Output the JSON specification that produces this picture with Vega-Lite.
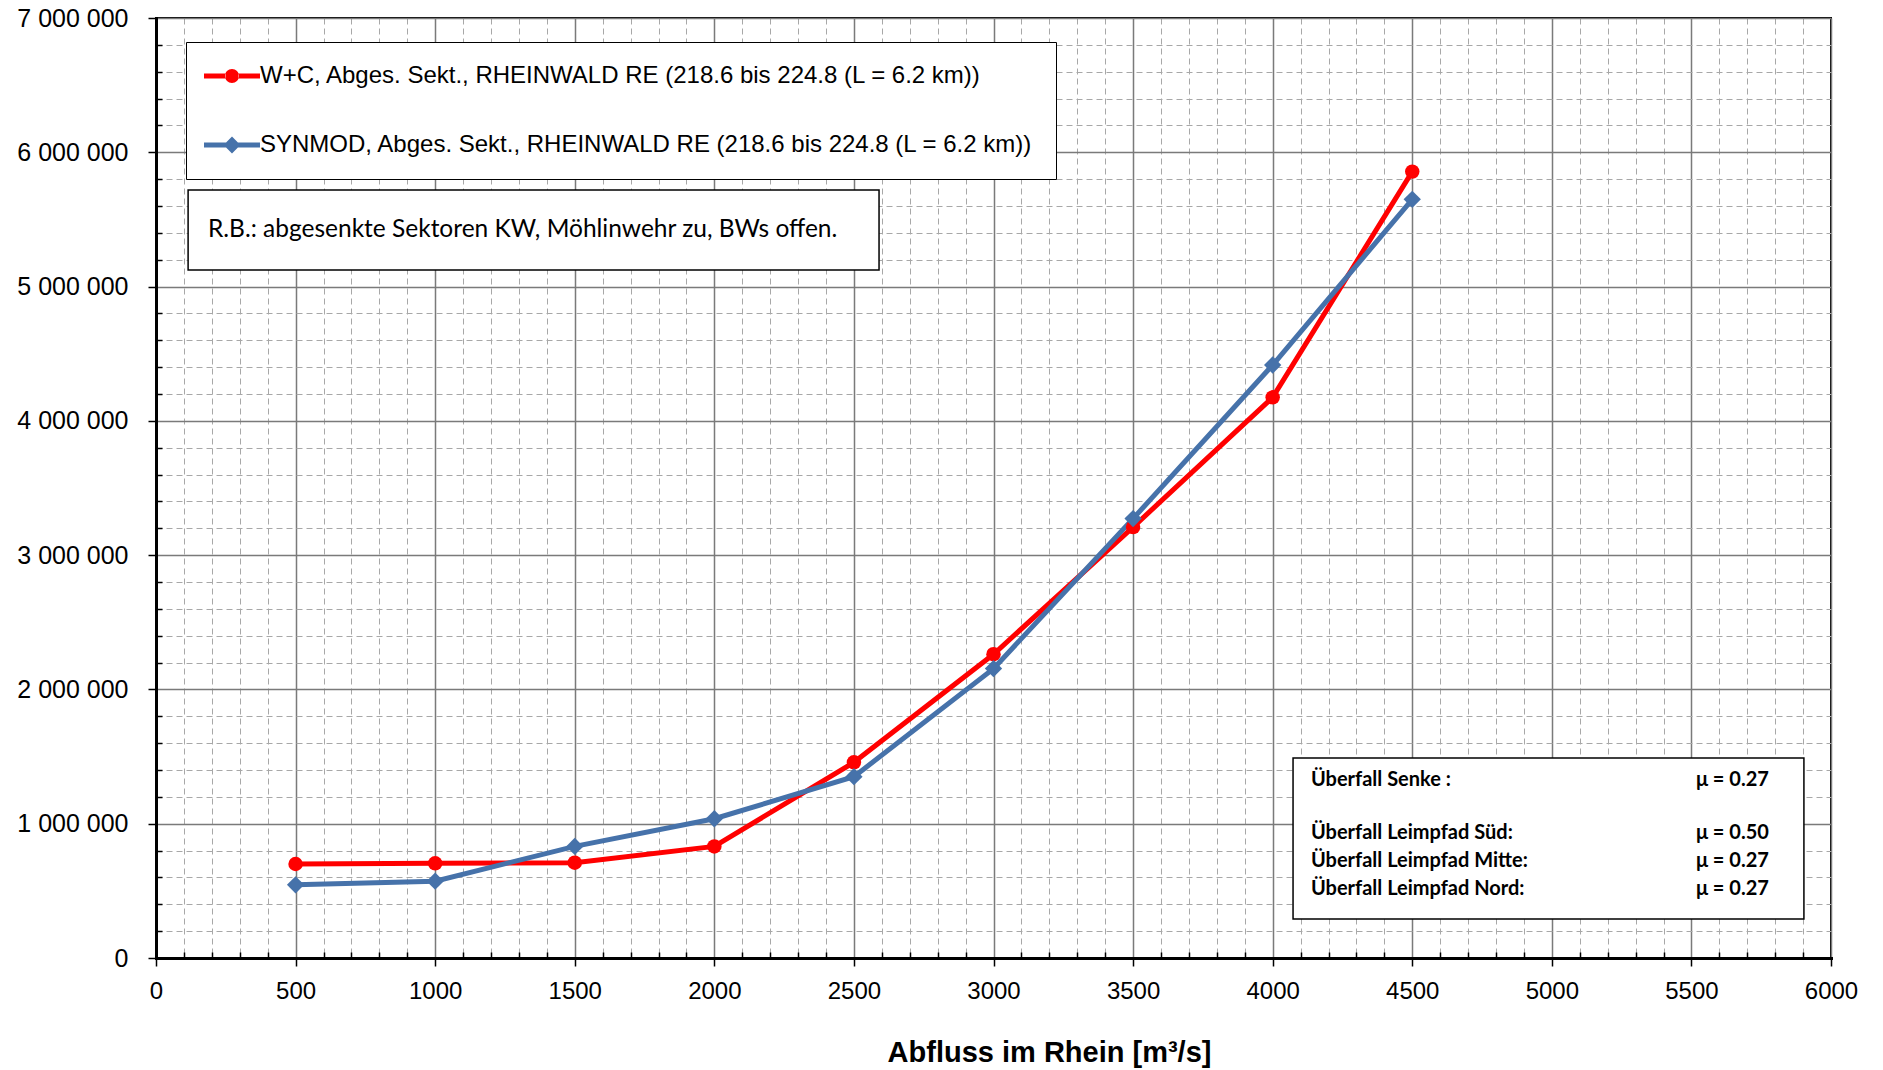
{
  "$schema": "https://vega.github.io/schema/vega-lite/v6.json",
  "width": 1675,
  "height": 940,
  "autosize": {"type": "none"},
  "padding": {"left": 156, "top": 18, "right": 52, "bottom": 112},
  "background": "white",
  "title": {
    "text": "(LB-Berechnungen W+C, small Messenkt 15.6.2013)",
    "font": "Liberation Sans",
    "fontSize": 20,
    "fontWeight": "normal",
    "color": "black",
    "frame": "group",
    "baseline": "bottom",
    "offset": -2,
    "dx": -84
  },
  "datasets": {
    "series": [
      {"Q": 500, "V": 700000, "series": "W+C, Abges. Sekt., RHEINWALD RE (218.6 bis 224.8 (L = 6.2 km))"},
      {"Q": 1000, "V": 705000, "series": "W+C, Abges. Sekt., RHEINWALD RE (218.6 bis 224.8 (L = 6.2 km))"},
      {"Q": 1500, "V": 710000, "series": "W+C, Abges. Sekt., RHEINWALD RE (218.6 bis 224.8 (L = 6.2 km))"},
      {"Q": 2000, "V": 831000, "series": "W+C, Abges. Sekt., RHEINWALD RE (218.6 bis 224.8 (L = 6.2 km))"},
      {"Q": 2500, "V": 1457000, "series": "W+C, Abges. Sekt., RHEINWALD RE (218.6 bis 224.8 (L = 6.2 km))"},
      {"Q": 3000, "V": 2262000, "series": "W+C, Abges. Sekt., RHEINWALD RE (218.6 bis 224.8 (L = 6.2 km))"},
      {"Q": 3500, "V": 3209000, "series": "W+C, Abges. Sekt., RHEINWALD RE (218.6 bis 224.8 (L = 6.2 km))"},
      {"Q": 4000, "V": 4175000, "series": "W+C, Abges. Sekt., RHEINWALD RE (218.6 bis 224.8 (L = 6.2 km))"},
      {"Q": 4500, "V": 5856000, "series": "W+C, Abges. Sekt., RHEINWALD RE (218.6 bis 224.8 (L = 6.2 km))"},
      {"Q": 500, "V": 545000, "series": "SYNMOD, Abges. Sekt., RHEINWALD RE (218.6 bis 224.8 (L = 6.2 km))"},
      {"Q": 1000, "V": 572000, "series": "SYNMOD, Abges. Sekt., RHEINWALD RE (218.6 bis 224.8 (L = 6.2 km))"},
      {"Q": 1500, "V": 831000, "series": "SYNMOD, Abges. Sekt., RHEINWALD RE (218.6 bis 224.8 (L = 6.2 km))"},
      {"Q": 2000, "V": 1037000, "series": "SYNMOD, Abges. Sekt., RHEINWALD RE (218.6 bis 224.8 (L = 6.2 km))"},
      {"Q": 2500, "V": 1350000, "series": "SYNMOD, Abges. Sekt., RHEINWALD RE (218.6 bis 224.8 (L = 6.2 km))"},
      {"Q": 3000, "V": 2155000, "series": "SYNMOD, Abges. Sekt., RHEINWALD RE (218.6 bis 224.8 (L = 6.2 km))"},
      {"Q": 3500, "V": 3272000, "series": "SYNMOD, Abges. Sekt., RHEINWALD RE (218.6 bis 224.8 (L = 6.2 km))"},
      {"Q": 4000, "V": 4416000, "series": "SYNMOD, Abges. Sekt., RHEINWALD RE (218.6 bis 224.8 (L = 6.2 km))"},
      {"Q": 4500, "V": 5650000, "series": "SYNMOD, Abges. Sekt., RHEINWALD RE (218.6 bis 224.8 (L = 6.2 km))"}
    ],
    "boxes": [
      {"x1": 115, "x2": 2590, "y1": 5123000, "y2": 5719000},
      {"x1": 4073, "x2": 5903, "y1": 290000, "y2": 1489000}
    ],
    "note": [
      {"x": 186, "y": 5421000, "text": "R.B.: abgesenkte Sektoren KW, Möhlinwehr zu, BWs offen."}
    ],
    "params": [
      {"x": 4137, "y": 1325000, "text": "Überfall Senke :"},
      {"x": 4137, "y": 931000, "text": "Überfall Leimpfad Süd:"},
      {"x": 4137, "y": 722000, "text": "Überfall Leimpfad Mitte:"},
      {"x": 4137, "y": 514000, "text": "Überfall Leimpfad Nord:"},
      {"x": 5516, "y": 1325000, "text": "μ = 0.27"},
      {"x": 5516, "y": 931000, "text": "μ = 0.50"},
      {"x": 5516, "y": 722000, "text": "μ = 0.27"},
      {"x": 5516, "y": 514000, "text": "μ = 0.27"}
    ]
  },
  "layer": [
    {
      "data": {"name": "series"},
      "transform": [{"filter": {"field": "series", "equal": "W+C, Abges. Sekt., RHEINWALD RE (218.6 bis 224.8 (L = 6.2 km))"}}],
      "mark": {"type": "line", "strokeWidth": 5, "color": "#ff0000"},
      "encoding": {
        "x": {
          "field": "Q", "type": "quantitative",
          "scale": {"domain": [0, 6000], "nice": false, "zero": false},
          "axis": {
            "title": "Abfluss im Rhein [m³/s]",
            "titleFont": "Liberation Sans",
            "titleFontSize": 29,
            "titleFontWeight": "bold",
            "titleColor": "black",
            "titleX": 893,
            "titleY": 103,
            "titleBaseline": "alphabetic",
            "tickCount": 200,
            "values": [0,100,200,300,400,500,600,700,800,900,1000,1100,1200,1300,1400,1500,1600,1700,1800,1900,2000,2100,2200,2300,2400,2500,2600,2700,2800,2900,3000,3100,3200,3300,3400,3500,3600,3700,3800,3900,4000,4100,4200,4300,4400,4500,4600,4700,4800,4900,5000,5100,5200,5300,5400,5500,5600,5700,5800,5900,6000],
            "labelExpr": "datum.value % 500 === 0 ? format(datum.value, 'd') : ''",
            "labelOverlap": false,
            "labelFlush": false,
            "labelFont": "Liberation Sans",
            "labelFontSize": 24,
            "labelColor": "black",
            "labelPadding": 13,
            "domainColor": "black",
            "domainWidth": 3,
            "tickColor": "black",
            "tickWidth": 1.5,
            "tickSize": {"condition": {"test": "datum.value % 500 === 0", "value": 8}, "value": -6},
            "grid": true,
            "gridColor": {"condition": {"test": "datum.value % 500 === 0", "value": "#7a7a7a"}, "value": "#a8a8a8"},
            "gridWidth": {"condition": {"test": "datum.value % 500 === 0", "value": 1.5}, "value": 1},
            "gridDash": {"condition": {"test": "datum.value % 500 === 0", "value": []}, "value": [6, 4]}
          }
        },
        "y": {
          "field": "V", "type": "quantitative",
          "scale": {"domain": [0, 7000000], "nice": false},
          "axis": {
            "title": null,
            "tickCount": 200,
            "values": [0,200000,400000,600000,800000,1000000,1200000,1400000,1600000,1800000,2000000,2200000,2400000,2600000,2800000,3000000,3200000,3400000,3600000,3800000,4000000,4200000,4400000,4600000,4800000,5000000,5200000,5400000,5600000,5800000,6000000,6200000,6400000,6600000,6800000,7000000],
            "labelExpr": "datum.value % 1000000 === 0 ? replace(format(datum.value, ','), regexp(',', 'g'), ' ') : ''",
            "labelOverlap": false,
            "labelFlush": false,
            "labelFont": "Liberation Sans",
            "labelFontSize": 25,
            "labelColor": "black",
            "labelPadding": 20,
            "domainColor": "black",
            "domainWidth": 3,
            "tickColor": "black",
            "tickWidth": 1.5,
            "tickSize": {"condition": {"test": "datum.value % 1000000 === 0", "value": 8}, "value": -6},
            "grid": true,
            "gridColor": {"condition": {"test": "datum.value % 1000000 === 0", "value": "#7a7a7a"}, "value": "#a8a8a8"},
            "gridWidth": {"condition": {"test": "datum.value % 1000000 === 0", "value": 1.5}, "value": 1},
            "gridDash": {"condition": {"test": "datum.value % 1000000 === 0", "value": []}, "value": [6, 4]}
          }
        }
      }
    },
    {
      "data": {"name": "series"},
      "transform": [{"filter": {"field": "series", "equal": "SYNMOD, Abges. Sekt., RHEINWALD RE (218.6 bis 224.8 (L = 6.2 km))"}}],
      "mark": {"type": "line", "strokeWidth": 5, "color": "#4672aa"},
      "encoding": {
        "x": {"field": "Q", "type": "quantitative"},
        "y": {"field": "V", "type": "quantitative"}
      }
    },
    {
      "data": {"name": "series"},
      "transform": [{"filter": {"field": "series", "equal": "W+C, Abges. Sekt., RHEINWALD RE (218.6 bis 224.8 (L = 6.2 km))"}}],
      "mark": {"type": "point", "filled": true, "opacity": 1, "shape": "circle", "size": 210, "color": "#ff0000"},
      "encoding": {
        "x": {"field": "Q", "type": "quantitative"},
        "y": {"field": "V", "type": "quantitative"}
      }
    },
    {
      "data": {"name": "series"},
      "transform": [{"filter": {"field": "series", "equal": "SYNMOD, Abges. Sekt., RHEINWALD RE (218.6 bis 224.8 (L = 6.2 km))"}}],
      "mark": {"type": "point", "filled": true, "opacity": 1, "shape": "diamond", "size": 300, "color": "#4672aa"},
      "encoding": {
        "x": {"field": "Q", "type": "quantitative"},
        "y": {"field": "V", "type": "quantitative"}
      }
    },
    {
      "data": {"name": "series"},
      "mark": {"type": "point", "filled": true, "opacity": 0, "size": 196},
      "encoding": {
        "x": {"field": "Q", "type": "quantitative"},
        "y": {"field": "V", "type": "quantitative"},
        "color": {
          "field": "series", "type": "nominal",
          "scale": {
            "domain": ["W+C, Abges. Sekt., RHEINWALD RE (218.6 bis 224.8 (L = 6.2 km))", "SYNMOD, Abges. Sekt., RHEINWALD RE (218.6 bis 224.8 (L = 6.2 km))"],
            "range": ["#ff0000", "#4672aa"]
          },
          "legend": {
            "orient": "none",
            "legendX": 30,
            "legendY": 24,
            "title": null,
            "padding": 22,
            "strokeColor": "black",
            "fillColor": "white",
            "labelFont": "Liberation Sans",
            "labelFontSize": 24,
            "labelColor": "black",
            "labelLimit": 2000,
            "rowPadding": 45,
            "symbolSize": 196,
            "symbolOffset": 12,
            "labelOffset": 16,
            "symbolStrokeWidth": 0,
            "symbolOpacity": 1
          }
        },
        "shape": {
          "field": "series", "type": "nominal",
          "scale": {
            "domain": ["W+C, Abges. Sekt., RHEINWALD RE (218.6 bis 224.8 (L = 6.2 km))", "SYNMOD, Abges. Sekt., RHEINWALD RE (218.6 bis 224.8 (L = 6.2 km))"],
            "range": [
              "M-4,-0.36H-0.93V0.36H-4Z M0.93,-0.36H4V0.36H0.93Z M-1,0A1,1 0 1,0 1,0A1,1 0 1,0 -1,0Z",
              "M-4,-0.36H-0.84V0.36H-4Z M0.84,-0.36H4V0.36H0.84Z M0,-1.2L1.2,0L0,1.2L-1.2,0Z"
            ]
          },
          "legend": {
            "orient": "none",
            "legendX": 30,
            "legendY": 24,
            "title": null,
            "padding": 22,
            "strokeColor": "black",
            "fillColor": "white",
            "labelFont": "Liberation Sans",
            "labelFontSize": 24,
            "labelColor": "black",
            "labelLimit": 2000,
            "rowPadding": 45,
            "symbolSize": 196,
            "symbolOffset": 12,
            "labelOffset": 16,
            "symbolStrokeWidth": 0,
            "symbolOpacity": 1
          }
        }
      }
    },
    {
      "data": {"name": "boxes"},
      "mark": {"type": "rect", "fill": "white", "stroke": "black", "strokeWidth": 1.5},
      "encoding": {
        "x": {"field": "x1", "type": "quantitative"},
        "x2": {"field": "x2"},
        "y": {"field": "y1", "type": "quantitative"},
        "y2": {"field": "y2"}
      }
    },
    {
      "data": {"name": "note"},
      "mark": {"type": "text", "align": "left", "baseline": "middle", "font": "Lato", "fontSize": 24.5, "color": "black"},
      "encoding": {
        "x": {"field": "x", "type": "quantitative"},
        "y": {"field": "y", "type": "quantitative"},
        "text": {"field": "text"}
      }
    },
    {
      "data": {"name": "params"},
      "mark": {"type": "text", "align": "left", "baseline": "middle", "font": "Lato", "fontSize": 20, "fontWeight": "bold", "color": "black"},
      "encoding": {
        "x": {"field": "x", "type": "quantitative"},
        "y": {"field": "y", "type": "quantitative"},
        "text": {"field": "text"}
      }
    }
  ],
  "config": {
    "view": {"stroke": "black", "strokeWidth": 2},
    "axis": {"domainCap": "square"}
  }
}
